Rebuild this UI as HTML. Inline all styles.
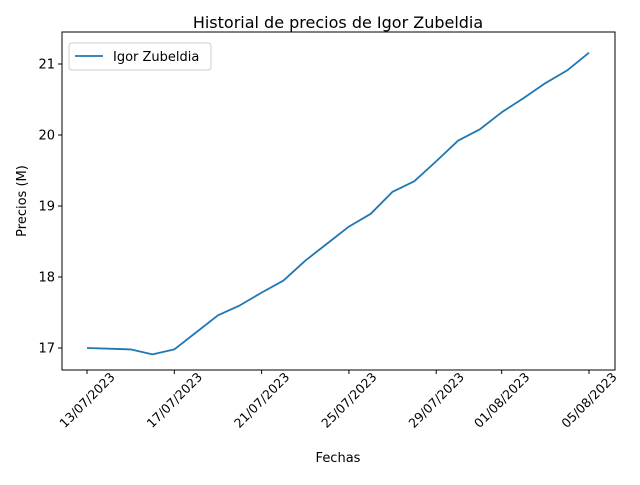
<!DOCTYPE html>
<html><head><meta charset="utf-8"><style>
body{margin:0;background:#fff;font-family:"Liberation Sans","DejaVu Sans",sans-serif;}
svg text{font-family:"DejaVu Sans","Liberation Sans",sans-serif;}
</style></head><body>
<svg id="chart" width="640" height="480" viewBox="0 0 640 480" xmlns="http://www.w3.org/2000/svg">
<rect width="640" height="480" fill="#fff"/>
<text x="338" y="28" text-anchor="middle" font-size="16">Historial de precios de Igor Zubeldia</text>
<g id="plot"></g>
<rect x="62" y="32" width="553" height="338" fill="none" stroke="#000" stroke-width="1"/>
<text x="338" y="462" text-anchor="middle" font-size="13">Fechas</text>
<text x="26" y="201" text-anchor="middle" font-size="13" transform="rotate(-90 26 201)">Precios (M)</text>
<g>
<rect x="69" y="43" width="142" height="27" rx="3" fill="#fff" stroke="#ccc"/>
<line x1="75" y1="56" x2="103" y2="56" stroke="#1f77b4" stroke-width="1.8"/>
<text x="113" y="61" font-size="13">Igor Zubeldia</text>
</g>
</svg>
<script>
const dayOffsets=[0,1,2,3,4,5,6,7,8,9,10,11,12,13,14,15,16,17,18,19,20,21,22,23];
const prices=[17.00,16.99,16.98,16.91,16.98,17.22,17.46,17.60,17.78,17.95,18.23,18.47,18.71,18.89,19.20,19.35,19.63,19.92,20.08,20.32,20.52,20.73,20.91,21.16];
const xTickOffsets=[0,4,8,12,16,19,23];
const xTickLabels=["13/07/2023","17/07/2023","21/07/2023","25/07/2023","29/07/2023","01/08/2023","05/08/2023"];
const yTicks=[17,18,19,20,21];
const NS="http://www.w3.org/2000/svg";
const g=document.getElementById('plot');
const xS=d=>87+d*(502/23);
const yS=v=>348-(v-17)*71;
function mk(t,a){const e=document.createElementNS(NS,t);for(const k in a)e.setAttribute(k,a[k]);g.appendChild(e);return e;}
yTicks.forEach(v=>{
  const y=yS(v);
  const l=mk('line',{x1:58,x2:62,y1:y,y2:y,stroke:'#000'});
  
  
  const t=mk('text',{x:55,y:y+4.5,'text-anchor':'end','font-size':13});
  t.textContent=v;
  
  
});
xTickOffsets.forEach((d,i)=>{
  const x=xS(d);
  const l=mk('line',{x1:x,x2:x,y1:370,y2:374,stroke:'#000'});
  
  
  const t=mk('text',{x:x,y:400,'text-anchor':'middle','dominant-baseline':'central','font-size':12.5,transform:`rotate(-45 ${x} 400)`});
  t.textContent=xTickLabels[i];
  
  
});
const p=mk('polyline',{points:dayOffsets.map((d,i)=>xS(d)+','+yS(prices[i])).join(' '),fill:'none',stroke:'#1f77b4','stroke-width':1.8,'stroke-linejoin':'round'});


</script>
</body></html>
